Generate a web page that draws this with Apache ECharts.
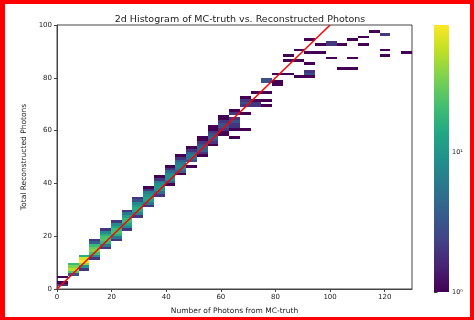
<!DOCTYPE html>
<html>
<head>
<meta charset="utf-8">
<script src="https://cdn.jsdelivr.net/npm/echarts@6/dist/echarts.min.js"></script>
<style>
  html, body { margin: 0; padding: 0; background: #fff; }
  #chart { width: 474px; height: 320px; }
  #frame {
    position: absolute; left: 0; top: 0; width: 474px; height: 320px;
    box-sizing: border-box; border: 4px solid #f00; border-left-width: 5px;
    border-bottom-width: 3px; pointer-events: none;
  }
</style>
</head>
<body>
<div id="chart"></div>
<div id="frame"></div>
<script>
// Histogram binning: 33 equal bins along x over [0, 130], unit-height bins along y
const xRange = [0, 130];
const xBinCount = 33;
const yBinHeight = 1;

// Dense band along the diagonal: first y-bin of each x-bin (0..15) and its counts, bottom to top
const stackStart = [1, 5, 7, 11, 15, 18, 22, 27, 31, 35, 39, 43, 46, 50, 54, 58];
const stackCounts = [
  [2, 1, 0, 1],
  [3, 25, 50, 35, 20],
  [2, 10, 40, 82, 60, 15],
  [2, 8, 22, 35, 28, 20, 4, 2],
  [2, 6, 18, 25, 22, 16, 8, 2],
  [2, 6, 16, 22, 20, 14, 8, 2],
  [2, 8, 14, 20, 18, 12, 6, 2],
  [2, 8, 14, 15, 12, 8, 3, 2],
  [2, 6, 12, 13, 10, 7, 2, 1],
  [2, 5, 10, 11, 9, 6, 2, 1],
  [1, 4, 8, 9, 8, 5, 2, 1],
  [1, 4, 7, 8, 6, 4, 2, 1],
  [1, 0, 3, 5, 6, 4, 2, 1],
  [1, 2, 4, 4, 3, 2, 1, 1],
  [1, 2, 3, 4, 3, 2, 1, 1],
  [1, 1, 2, 3, 3, 2, 1, 1]
];

// Sparse cells at higher photon counts (x-bin, y-bin, count)
const looseCol = [16,16,16,16,16,16,16,16, 17,17,17,17,17,17, 18,18,18,18, 19,19,19,19,19,
  20,20,20, 21,21,21, 22,22,22, 23,23,23,23,23,23, 24,24, 25,25,25, 26,26, 27,27,27, 28,28, 29, 30,30,30, 32];
const looseRow = [57,60,61,62,63,64,66,67, 60,66,69,70,71,72, 69,70,71,74, 69,71,74,78,79,
  77,78,81, 81,86,88, 80,86,90, 80,81,82,85,89,94, 89,92, 87,92,93, 83,92, 83,87,94, 92,95, 97, 88,90,96, 89];
const looseCount = [1,1,2,2,3,2,2,1, 1,1,2,3,2,1, 2,2,1,1, 1,1,1,3,3,
  1,1,1, 1,1,1, 1,1,1, 1,3,2,1,1,1, 1,1, 1,2,2, 1,1, 1,1,1, 1,1, 1, 1,1,2, 1];

// Reference line y = x
const refLineX = [0, 100];
const refLineY = [0, 100];

const xTicks = [0, 20, 40, 60, 80, 100, 120];
const yTicks = [0, 20, 40, 60, 80, 100];

// Colour bar (log scale)
const cbarMax = 82;
const cbarMajor = [1, 10];
const cbarMinor = [2, 3, 4, 5, 6, 7, 8, 9, 20, 30, 40, 50, 60, 70, 80];
const viridis = ['#440154', '#482475', '#414487', '#355f8d', '#2a788e', '#21918c',
  '#22a884', '#44bf70', '#7ad151', '#bddf26', '#fde725'];

const binW = (xRange[1] - xRange[0]) / xBinCount;
const cells = [];
function addCell(col, row, count) {
  if (count > 0) {
    cells.push([xRange[0] + col * binW, row * yBinHeight, count, Math.log10(count)]);
  }
}
stackCounts.forEach((list, col) => {
  list.forEach((c, k) => addCell(col, stackStart[col] + k, c));
});
looseCol.forEach((col, k) => addCell(col, looseRow[k], looseCount[k]));

const FONT = 'DejaVu Sans';
const INK = '#222';
const logMax = Math.log10(cbarMax);
const supDigits = ['\u2070', '\u00b9', '\u00b2'];

function renderCell(params, api) {
  const x = api.value(0), y = api.value(1);
  const p0 = api.coord([x, y + yBinHeight]);
  const p1 = api.coord([x + binW, y]);
  const x0 = Math.round(p0[0]), y0 = Math.round(p0[1]);
  return {
    type: 'rect',
    shape: { x: x0, y: y0, width: Math.round(p1[0]) - x0, height: Math.round(p1[1]) - y0 },
    style: { fill: api.visual('color') }
  };
}

function renderColorbar(params, api) {
  const p0 = api.coord([0, logMax]);
  const p1 = api.coord([1, 0]);
  const stops = viridis.map((c, i) => ({ offset: i / (viridis.length - 1), color: c }));
  return {
    type: 'rect',
    shape: { x: p0[0], y: p0[1], width: p1[0] - p0[0], height: p1[1] - p0[1] },
    style: { fill: new echarts.graphic.LinearGradient(0, 1, 0, 0, stops) }
  };
}

const chart = echarts.init(document.getElementById('chart'), null, { renderer: 'canvas' });
chart.setOption({
  animation: false,
  backgroundColor: '#fff',
  title: {
    text: '2d Histogram of MC-truth vs. Reconstructed Photons',
    left: 235, top: 10, textAlign: 'center',
    textStyle: { fontFamily: FONT, fontSize: 9.5, fontWeight: 'normal', color: INK }
  },
  grid: [
    { left: 57, right: 62, top: 25, bottom: 28, show: true, borderColor: '#444', borderWidth: 1 },
    { left: 434, width: 15, top: 25, bottom: 28 },
    { left: 434, width: 15, top: 25, bottom: 28 }
  ],
  visualMap: {
    show: false, type: 'continuous', seriesIndex: 0, dimension: 3,
    min: 0, max: logMax, inRange: { color: viridis }
  },
  xAxis: [
    {
      gridIndex: 0, type: 'value', min: xRange[0], max: xRange[1],
      name: 'Number of Photons from MC-truth', nameLocation: 'middle', nameGap: 18,
      nameTextStyle: { fontFamily: FONT, fontSize: 7.5, color: INK },
      axisLine: { lineStyle: { color: '#444', width: 1 } },
      axisTick: { customValues: xTicks, length: 3, lineStyle: { color: '#444' } },
      axisLabel: { customValues: xTicks, fontFamily: FONT, fontSize: 7, color: INK, margin: 5 },
      splitLine: { show: false }
    },
    { gridIndex: 1, type: 'value', min: 0, max: 1, show: false },
    { gridIndex: 2, type: 'value', min: 0, max: 1, show: false }
  ],
  yAxis: [
    {
      gridIndex: 0, type: 'value', min: 0, max: 100,
      name: 'Total Reconstructed Photons', nameLocation: 'middle', nameGap: 25,
      nameTextStyle: { fontFamily: FONT, fontSize: 7.5, color: INK },
      axisLine: { lineStyle: { color: '#444', width: 1 } },
      axisTick: { customValues: yTicks, length: 3, lineStyle: { color: '#444' } },
      axisLabel: { customValues: yTicks, fontFamily: FONT, fontSize: 7, color: INK, margin: 5 },
      splitLine: { show: false }
    },
    {
      gridIndex: 1, type: 'value', min: 0, max: logMax, position: 'right',
      axisLine: { show: false },
      axisTick: { customValues: cbarMajor.map(Math.log10), length: 3.5, lineStyle: { color: '#444' } },
      axisLabel: {
        customValues: cbarMajor.map(Math.log10), fontFamily: FONT, fontSize: 6.5, color: INK, margin: 3,
        formatter: v => '10' + supDigits[Math.round(v)]
      },
      splitLine: { show: false }
    },
    {
      gridIndex: 2, type: 'value', min: 0, max: logMax, position: 'right',
      axisLine: { show: false },
      axisTick: { customValues: cbarMinor.map(Math.log10), length: 2, lineStyle: { color: '#444' } },
      axisLabel: { show: false },
      splitLine: { show: false }
    }
  ],
  series: [
    {
      type: 'custom', xAxisIndex: 0, yAxisIndex: 0,
      dimensions: ['x', 'y', 'count', 'logCount'],
      encode: { x: 0, y: 1 },
      renderItem: renderCell,
      data: cells
    },
    {
      type: 'line', xAxisIndex: 0, yAxisIndex: 0,
      data: refLineX.map((x, i) => [x, refLineY[i]]),
      showSymbol: false, symbol: 'none', clip: true,
      lineStyle: { color: '#ff0000', width: 1.5 }, z: 5
    },
    {
      type: 'custom', xAxisIndex: 1, yAxisIndex: 1,
      renderItem: renderColorbar,
      data: [[0, 0]]
    }
  ]
});
</script>
</body>
</html>
